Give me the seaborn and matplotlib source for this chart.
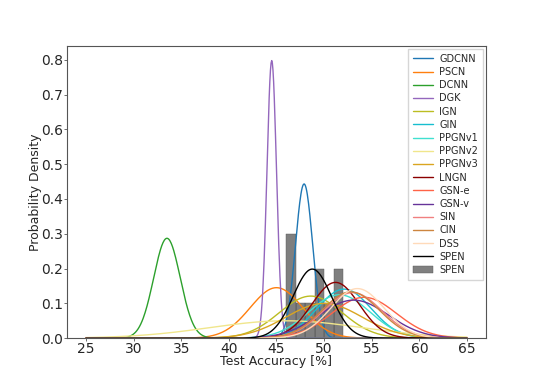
import numpy as np
import matplotlib
matplotlib.use("Agg")
import matplotlib.pyplot as plt
import seaborn as sns
import pandas as pd
from matplotlib.patches import Patch

# ---- data ----
methods = ["GDCNN", "PSCN", "DCNN", "DGK", "IGN", "GIN", "PPGNv1", "PPGNv2",
           "PPGNv3", "LNGN", "GSN-e", "GSN-v", "SIN", "CIN", "DSS"]
means = [47.9, 45.0, 33.5, 44.5, 48.6, 52.1, 51.6, 46.0,
         50.0, 51.2, 54.2, 53.1, 53.0, 52.8, 53.5]
stds = [0.90, 2.75, 1.39, 0.50, 3.30, 2.83, 3.20, 8.00,
        4.00, 2.49, 3.40, 3.65, 3.05, 3.00, 2.80]
colors = ["tab:blue", "tab:orange", "tab:green", "tab:purple", "tab:olive",
          "tab:cyan", "turquoise", "khaki", "goldenrod", "darkred", "tomato",
          "rebeccapurple", "lightcoral", "peru", "peachpuff"]
spen_values = [46.0, 46.6, 46.8, 47.8, 48.3, 49.2, 49.5, 50.3, 51.1, 52.0]
x_range = (25, 65)
xticks = [25, 30, 35, 40, 45, 50, 55, 60, 65]
yticks = [0.0, 0.1, 0.2, 0.3, 0.4, 0.5, 0.6, 0.7, 0.8]

sns.set_style("ticks")
plt.rcParams["font.family"] = ["DejaVu Sans"]

fig = plt.figure(figsize=(5.4, 3.86), dpi=100)
ax = fig.add_axes([0.124, 0.124, 0.776, 0.757])

xs = np.linspace(x_range[0], x_range[1], 600)


def npdf(x, m, s):
    return np.exp(-0.5 * ((x - m) / s) ** 2) / (s * np.sqrt(2 * np.pi))


handles = []
for name, m, s, c in zip(methods, means, stds, colors):
    df = pd.DataFrame({"x": xs, "y": npdf(xs, m, s)})
    sns.lineplot(data=df, x="x", y="y", color=c, lw=1.0, ax=ax)
    handles.append(ax.lines[-1])

spen_mean = float(np.mean(spen_values))
spen_std = float(np.std(spen_values, ddof=1))
df = pd.DataFrame({"x": xs, "y": npdf(xs, spen_mean, spen_std)})
sns.lineplot(data=df, x="x", y="y", color="black", lw=1.0, ax=ax)
handles.append(ax.lines[-1])

sns.histplot(x=spen_values, bins=6, stat="density", color="black",
             alpha=0.5, linewidth=0.3, edgecolor="#555555", ax=ax)
handles.append(Patch(facecolor="gray", edgecolor="#555555", lw=0.3))

labels = methods + ["SPEN", "SPEN"]
ax.legend(handles, labels, loc="upper right", fontsize=7,
          handlelength=2.0, handletextpad=0.7, labelspacing=0.33,
          borderpad=0.5, borderaxespad=0.3, frameon=True, fancybox=False,
          edgecolor="#cccccc")

ax.set_xlim(23, 67)
ax.set_ylim(0, 0.84)
ax.set_xticks(xticks)
ax.set_yticks(yticks)
ax.set_xticklabels([str(t) for t in xticks])
ax.set_yticklabels([f"{t:.1f}" for t in yticks])
ax.tick_params(labelsize=10, length=2.5, width=0.6, pad=0.5, color="#555555")
for sp in ax.spines.values():
    sp.set_color("#555555")
    sp.set_linewidth(0.8)
ax.set_xlabel("Test Accuracy [%]", fontsize=9, labelpad=-1)
ax.set_ylabel("Probability Density", fontsize=9, labelpad=-1)

fig.savefig("out.png", dpi=100)
